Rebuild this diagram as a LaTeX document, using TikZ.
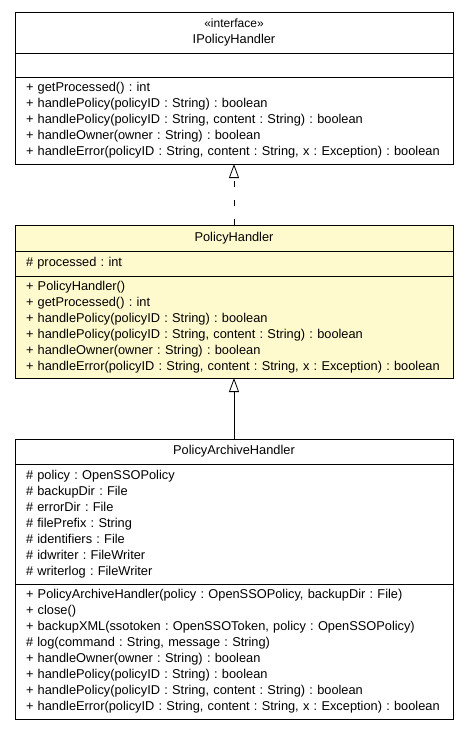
\documentclass[tikz,border=0pt]{standalone}
\usepackage{fontspec}
\setmainfont{Liberation Sans}
\frenchspacing
\usetikzlibrary{positioning,arrows.meta}
\definecolor{classyellow}{RGB}{255,250,205}
\tikzset{
	compartment/.style={draw, line width=0.8pt, outer sep=0pt, text width=416pt, inner xsep=11pt, inner ysep=0pt, align=left, font=\fontsize{12.8}{16}\selectfont},
	classname/.style={compartment, align=center},
	umltip/.style={-{Triangle[open, length=14pt, width=10pt]}},
	realizes/.style={draw, line width=0.8pt, umltip, dash pattern=on 6pt off 13pt},
	extends/.style={draw, line width=0.8pt, umltip},
}
\begin{document}
\begin{tikzpicture}[x=1pt, y=-1pt]
	\useasboundingbox (0,0) rectangle (469,731);
	\node[classname, minimum height=41pt, anchor=north] (iph-name) at (234,12)
		{{\fontsize{12}{16}\selectfont «interface»}\\IPolicyHandler};
	\node[compartment, minimum height=24pt, below=0pt of iph-name] (iph-attr) {};
	\node[compartment, minimum height=87pt, below=0pt of iph-attr] (iph-ops)
		{+ getProcessed() : int\\
		+ handlePolicy(policyID : String) : boolean\\
		+ handlePolicy(policyID : String, content : String) : boolean\\
		+ handleOwner(owner : String) : boolean\\
		+ handleError(policyID : String, content : String, x : Exception) : boolean};

	\node[classname, fill=classyellow, minimum height=26pt, below=61pt of iph-ops] (ph-name) {PolicyHandler};
	\node[compartment, fill=classyellow, minimum height=25pt, below=0pt of ph-name] (ph-attr)
		{\# processed : int};
	\node[compartment, fill=classyellow, minimum height=102pt, below=0pt of ph-attr] (ph-ops)
		{+ PolicyHandler()\\
		+ getProcessed() : int\\
		+ handlePolicy(policyID : String) : boolean\\
		+ handlePolicy(policyID : String, content : String) : boolean\\
		+ handleOwner(owner : String) : boolean\\
		+ handleError(policyID : String, content : String, x : Exception) : boolean};

	\node[classname, minimum height=25pt, below=61pt of ph-ops] (pah-name) {PolicyArchiveHandler};
	\node[compartment, minimum height=120pt, below=0pt of pah-name] (pah-attr)
		{\# policy : OpenSSOPolicy\\
		\# backupDir : File\\
		\# errorDir : File\\
		\# filePrefix : String\\
		\# identifiers : File\\
		\# idwriter : FileWriter\\
		\# writerlog : FileWriter};
	\node[compartment, minimum height=135pt, below=0pt of pah-attr] (pah-ops)
		{+ PolicyArchiveHandler(policy : OpenSSOPolicy, backupDir : File)\\
		+ close()\\
		+ backupXML(ssotoken : OpenSSOToken, policy : OpenSSOPolicy)\\
		\# log(command : String, message : String)\\
		+ handleOwner(owner : String) : boolean\\
		+ handlePolicy(policyID : String) : boolean\\
		+ handlePolicy(policyID : String, content : String) : boolean\\
		+ handleError(policyID : String, content : String, x : Exception) : boolean};

	\draw[realizes] (ph-name.north) -- (iph-ops.south);
	\draw[extends] (pah-name.north) -- (ph-ops.south);
\end{tikzpicture}
\end{document}
